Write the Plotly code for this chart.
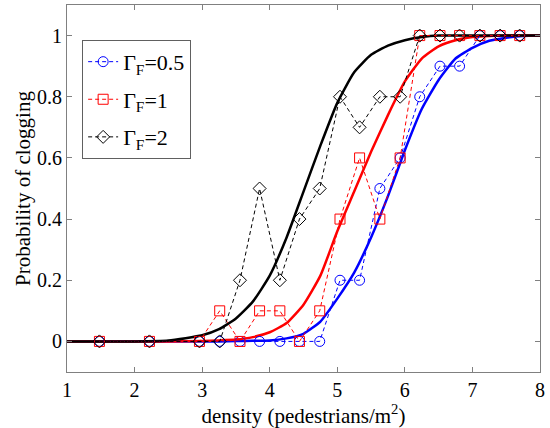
import plotly.graph_objects as go

# Measured data (density in pedestrians/m^2)
density = [1.48, 2.22, 2.96, 3.26, 3.56, 3.85, 4.15, 4.44, 4.74, 5.04,
           5.33, 5.63, 5.93, 6.22, 6.52, 6.81, 7.11, 7.41, 7.70]
p_gf05 = [0, 0, 0, 0, 0, 0, 0, 0, 0, 0.2, 0.2, 0.5, 0.6, 0.8, 0.9, 0.9, 1, 1, 1]
p_gf1 = [0, 0, 0, 0.1, 0, 0.1, 0.1, 0, 0.1, 0.4, 0.6, 0.4, 0.6, 1, 1, 1, 1, 1, 1]
p_gf2 = [0, 0, 0, 0, 0.2, 0.5, 0.2, 0.4, 0.5, 0.8, 0.7, 0.8, 0.8, 1, 1, 1, 1, 1, 1]

# Fitted curves
fit_x = [1, 2, 2.5, 3, 3.25, 3.5, 3.75, 4, 4.25, 4.5, 4.75, 5, 5.25, 5.5,
         5.75, 6, 6.25, 6.5, 6.75, 7, 7.25, 7.5, 7.75, 8]
fit_gf05 = [0, 0, 0, 0, 0, 0.001, 0.002, 0.003, 0.01, 0.025, 0.065, 0.14, 0.225, 0.34,
            0.475, 0.625, 0.76, 0.855, 0.925, 0.96, 0.983, 0.993, 0.999, 1]
fit_gf1 = [0, 0, 0, 0.001, 0.003, 0.006, 0.014, 0.03, 0.06, 0.12, 0.215, 0.36, 0.49, 0.62,
           0.74, 0.85, 0.925, 0.965, 0.985, 0.995, 0.999, 1, 1, 1]
fit_gf2 = [0, 0, 0.003, 0.02, 0.04, 0.075, 0.13, 0.215, 0.34, 0.49, 0.64, 0.78, 0.88, 0.937,
           0.967, 0.985, 0.995, 1, 1, 1, 1, 1, 1, 1]

labels = ["Γ<sub>F</sub>=0.5", "Γ<sub>F</sub>=1", "Γ<sub>F</sub>=2"]
colors = ["#0000FF", "#FF0000", "#000000"]
symbols = ["circle-open", "square-open", "diamond-open"]

x_ticks = [1, 2, 3, 4, 5, 6, 7, 8]
y_ticks = [0, 0.2, 0.4, 0.6, 0.8, 1]
y_tick_labels = ["0", "0.2", "0.4", "0.6", "0.8", "1"]

FONT = "Liberation Serif, Times New Roman, serif"

fig = go.Figure()

for fy, c in zip([fit_gf05, fit_gf1, fit_gf2], colors):
    fig.add_trace(go.Scatter(x=fit_x, y=fy, mode="lines", showlegend=False,
                             line=dict(color=c, width=2.5, shape="spline", smoothing=0.5),
                             hoverinfo="skip"))

for i, (py, lab, c, s) in enumerate(zip([p_gf05, p_gf1, p_gf2], labels, colors, symbols)):
    fig.add_trace(go.Scatter(x=density, y=py, mode="lines+markers", name=lab,
                             legendgroup=f"g{i}",
                             line=dict(color=c, width=1, dash="4px,3px"),
                             marker=dict(symbol=s, size=10, color=c,
                                         line=dict(width=1, color=c))))

axis_common = dict(showline=True, linecolor="#808080", linewidth=1, mirror="ticks",
                   ticks="inside", ticklen=5, tickcolor="#808080", showgrid=False,
                   zeroline=False, automargin=False,
                   tickfont=dict(family=FONT, size=20, color="black"))

fig.update_xaxes(range=[1, 8], tickvals=x_ticks,
                 title=dict(text="density (pedestrians/m<sup>2</sup>)",
                            font=dict(family=FONT, size=21, color="black"), standoff=0),
                 **axis_common)
fig.update_yaxes(range=[-0.1, 1.1], tickvals=y_ticks, ticktext=y_tick_labels,
                 title=dict(text="Probability of clogging",
                            font=dict(family=FONT, size=21, color="black"), standoff=0),
                 **axis_common)

fig.update_layout(
    width=550, height=428,
    margin=dict(l=67, r=10, t=5, b=56, autoexpand=False),
    plot_bgcolor="white", paper_bgcolor="white",
    font=dict(family=FONT, size=20, color="black"),
    legend=dict(x=0.032, y=0.905, xanchor="left", yanchor="top",
                bgcolor="white", bordercolor="#606060", borderwidth=1,
                font=dict(family=FONT, size=22, color="black"),
                tracegroupgap=6, itemwidth=30),
)

fig.write_html("out.html", config={"displayModeBar": False},
               post_script="document.body.style.margin='0';document.body.style.overflow='hidden';")
